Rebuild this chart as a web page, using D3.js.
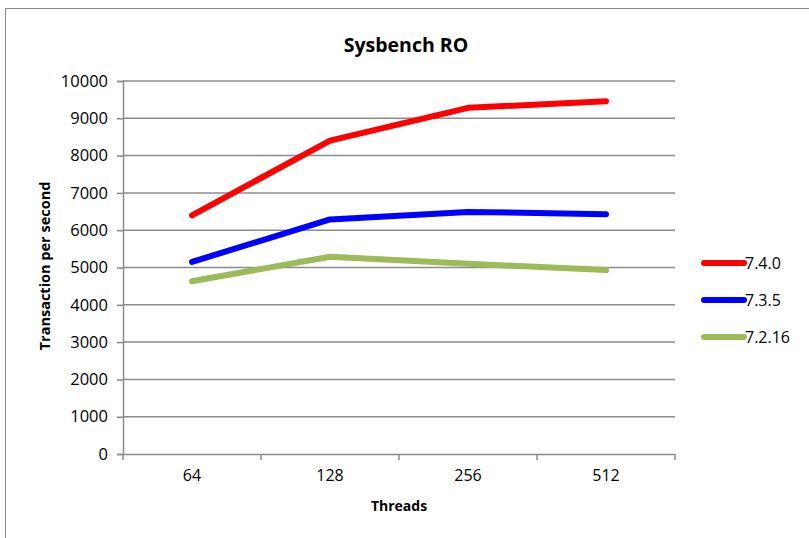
<!DOCTYPE html>
<html><head><meta charset="utf-8">
<script src="https://cdn.jsdelivr.net/npm/d3@7"></script>
<style>body{margin:0;background:#fff;} text{font-family:"Open Sans",sans-serif;fill:#000;}</style>
</head><body>
<svg id="c" width="809" height="538"></svg>
<script>
const categories = ["64","128","256","512"];
const seriesNames = ["7.4.0","7.3.5","7.2.16"];
const seriesColors = ["#ff0000","#0000ff","#9bbb59"];
const v740 = [6400, 8400, 9280, 9460];
const v735 = [5150, 6290, 6490, 6430];
const v7216 = [4630, 5290, 5100, 4930];
const yTicks = [0,1000,2000,3000,4000,5000,6000,7000,8000,9000,10000];
const seriesValues = [v740, v735, v7216];

(function(){
const svg = d3.select("#c");
svg.append("rect").attr("x",5.5).attr("y",8.5).attr("width",1000).attr("height",1000)
  .attr("fill","none").attr("stroke","#8c8c8c").attr("stroke-width",1);

const pL=123, pR=675, pT=81, pB=454;
const x = d3.scaleBand().domain(categories).range([pL,pR]);
const y = d3.scaleLinear().domain([0,10000]).range([pB,pT]);

svg.append("g").selectAll("line").data(yTicks.filter(d=>d>0)).join("line")
  .attr("x1",pL).attr("x2",pR).attr("y1",d=>y(d)).attr("y2",d=>y(d))
  .attr("stroke","#8c8c8c").attr("stroke-width",1.5);

const ya = svg.append("g").attr("transform",`translate(${pL},0)`)
  .call(d3.axisLeft(y).tickValues(yTicks).tickSize(6).tickPadding(9).tickFormat(d3.format("d")));
ya.select(".domain").attr("stroke","#8c8c8c").attr("stroke-width",1.5);
ya.selectAll(".tick line").attr("stroke","#8c8c8c").attr("stroke-width",1.5);
ya.selectAll(".tick text").style("font-size","16.5px").style("font-family","'Open Sans',sans-serif");

const xa = svg.append("g").attr("transform",`translate(0,${pB})`)
  .call(d3.axisBottom(x).tickSize(0).tickPadding(16));
xa.select(".domain").attr("stroke","#8c8c8c").attr("stroke-width",1.5);
xa.selectAll(".tick text").style("font-size","16px").style("font-family","'Open Sans',sans-serif");
const bounds = categories.map(c=>x(c)).concat([pR]);
svg.append("g").selectAll("line").data(bounds).join("line")
  .attr("x1",d=>d).attr("x2",d=>d).attr("y1",pB).attr("y2",pB+6)
  .attr("stroke","#8c8c8c").attr("stroke-width",1.5);

const line = d3.line().x((d,i)=>x(categories[i])+x.bandwidth()/2).y(d=>y(d));
svg.append("g").selectAll("path").data(seriesValues).join("path")
  .attr("d",d=>line(d)).attr("fill","none")
  .attr("stroke",(d,i)=>seriesColors[i]).attr("stroke-width",6)
  .attr("stroke-linecap","round").attr("stroke-linejoin","round");

const lg = svg.append("g").selectAll("g").data(seriesNames).join("g")
  .attr("transform",(d,i)=>`translate(704,${263+i*37})`);
lg.append("line").attr("x1",0).attr("x2",40).attr("y1",0).attr("y2",0)
  .attr("stroke",(d,i)=>seriesColors[i]).attr("stroke-width",6).attr("stroke-linecap","round");
lg.append("text").attr("x",41).attr("y",6).style("font-size","16px").text(d=>d);

svg.append("text").attr("x",406).attr("y",52).attr("text-anchor","middle")
  .style("font-size","19.5px").style("font-weight","bold").text("Sysbench RO");
svg.append("text").attr("x",399).attr("y",511).attr("text-anchor","middle")
  .style("font-size","14px").style("font-weight","bold").text("Threads");
svg.append("text").attr("transform","translate(50,266) rotate(-90)").attr("text-anchor","middle")
  .style("font-size","14.5px").style("font-weight","bold").text("Transaction per second");
})();
</script>
</body></html>
